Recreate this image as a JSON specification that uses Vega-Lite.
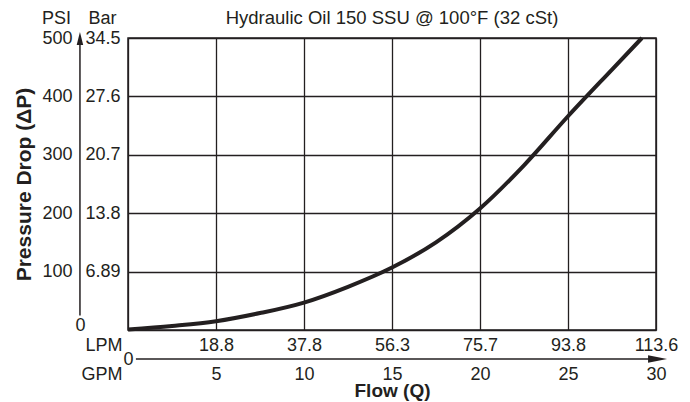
{
  "$schema": "https://vega.github.io/schema/vega-lite/v6.json",
  "width": 528,
  "height": 292,
  "autosize": {"type": "none"},
  "padding": {"left": 128, "top": 38, "right": 34, "bottom": 72},
  "background": "white",
  "title": {"text": "Hydraulic Oil 150 SSU @ 100°F (32 cSt)", "fontSize": 18.5, "fontWeight": "normal", "font": "Liberation Sans", "color": "#231f20", "anchor": "middle", "offset": 0, "dy": 18},
  "config": {
    "view": {"stroke": "#231f20", "strokeWidth": 1.5},
    "font": "Liberation Sans",
    "axis": {"labelFont": "Liberation Sans", "titleFont": "Liberation Sans", "labelColor": "#231f20", "titleColor": "#231f20", "labelFontSize": 18, "grid": false, "ticks": false, "tickSize": 0, "domain": false, "labelOverlap": false, "labelFlush": false, "labelBound": false}
  },
  "datasets": {
    "curve": [
      {"gpm": 0, "psi": 1},
      {"gpm": 2.5, "psi": 7},
      {"gpm": 5, "psi": 15},
      {"gpm": 7.5, "psi": 29},
      {"gpm": 10, "psi": 47},
      {"gpm": 12.5, "psi": 74},
      {"gpm": 15, "psi": 107},
      {"gpm": 17.5, "psi": 150},
      {"gpm": 20, "psi": 208},
      {"gpm": 22.5, "psi": 282},
      {"gpm": 25, "psi": 366},
      {"gpm": 27.5, "psi": 446},
      {"gpm": 29.2, "psi": 500}
    ],
    "one": [{"k": 1}]
  },
  "layer": [
    {
      "data": {"name": "curve"},
      "mark": {"type": "line", "interpolate": "monotone", "color": "#231f20", "strokeWidth": 4},
      "encoding": {
        "x": {"field": "gpm", "type": "quantitative", "scale": {"domain": [0, 30], "nice": false, "zero": false},
          "axis": {"orient": "bottom", "values": [0, 5, 10, 15, 20, 25, 30], "grid": true, "gridColor": "#231f20", "gridWidth": 1.3, "gridOpacity": 1, "labelPadding": 6,
            "labelExpr": "datum.value == 0 ? 'LPM' : datum.value == 5 ? '18.8' : datum.value == 10 ? '37.8' : datum.value == 15 ? '56.3' : datum.value == 20 ? '75.7' : datum.value == 25 ? '93.8' : '113.6'",
            "labelAlign": {"condition": {"test": "datum.value == 0", "value": "right"}, "value": "center"},
            "labelOffset": {"condition": {"test": "datum.value == 0", "value": -6}, "value": 0},
            "title": null}},
        "y": {"field": "psi", "type": "quantitative", "scale": {"domain": [0, 500], "nice": false},
          "axis": {"orient": "left", "offset": 48, "values": [0, 100, 200, 300, 400, 500], "labelPadding": {"condition": {"test": "datum.value == 0", "value": 0}, "value": 8},
            "labelAlign": {"condition": {"test": "datum.value == 0", "value": "center"}, "value": "right"},
            "labelOffset": {"condition": {"test": "datum.value == 0", "value": -5}, "value": 0},
            "title": "Pressure Drop (ΔP)", "titleFontSize": 21, "titleFontWeight": "bold", "titlePadding": 7}}
      }
    },
    {
      "mark": {"type": "rect", "color": "white"},
      "encoding": {
        "x": {"datum": 1.5, "type": "quantitative", "scale": {"domain": [0, 30], "nice": false, "zero": false},
          "axis": {"orient": "bottom", "offset": 29, "values": [0, 5, 10, 15, 20, 25, 30],
            "labelPadding": {"condition": {"test": "datum.value == 0", "value": 0}, "value": 6},
            "labelBaseline": {"condition": {"test": "datum.value == 0", "value": "middle"}, "value": "top"},
            "labelAlign": {"condition": {"test": "datum.value == 0", "value": "right"}, "value": "center"},
            "labelOffset": {"condition": {"test": "datum.value == 0", "value": 5}, "value": 0},
            "title": "Flow (Q)", "titleFontSize": 19, "titleFontWeight": "bold", "titlePadding": -2}},
        "x2": {"datum": 8.5},
        "y": {"datum": 325, "type": "quantitative", "scale": {"domain": [0, 500], "nice": false},
          "axis": {"orient": "left", "offset": 0, "values": [0, 100, 200, 300, 400, 500], "grid": true, "gridColor": "#231f20", "gridWidth": 1.3, "gridOpacity": 1,
            "labelAlign": "left", "labelPadding": 43,
            "labelExpr": "datum.value == 100 ? '6.89' : datum.value == 200 ? '13.8' : datum.value == 300 ? '20.7' : datum.value == 400 ? '27.6' : datum.value == 500 ? '34.5' : ''",
            "title": "Bar", "titleAngle": 0, "titleX": -26, "titleY": -20, "titleAlign": "center", "titleBaseline": "middle", "titleFontSize": 18, "titleFontWeight": "normal"}},
        "y2": {"datum": 372}
      }
    },
    {
      "mark": {"type": "text", "text": "100% Energized", "fontSize": 16, "fontWeight": "bold", "color": "#231f20", "font": "Liberation Sans"},
      "encoding": {
        "x": {"datum": 5, "type": "quantitative", "scale": {"domain": [0, 30], "nice": false, "zero": false},
          "axis": {"orient": "bottom", "offset": 29, "values": [0], "labelExpr": "'GPM'", "labelAlign": "right", "labelOffset": -6, "labelPadding": 6, "title": null}},
        "y": {"datum": 348, "type": "quantitative", "scale": {"domain": [0, 500], "nice": false},
          "axis": {"orient": "left", "offset": 0, "labels": false, "title": "PSI", "titleAngle": 0, "titleX": -72, "titleY": -20, "titleAlign": "center", "titleBaseline": "middle", "titleFontSize": 18, "titleFontWeight": "normal"}}
      }
    },
    {
      "data": {"name": "one"},
      "mark": {"type": "rule", "color": "#231f20", "strokeWidth": 1.5, "clip": false},
      "encoding": {
        "x": {"datum": -2.73, "type": "quantitative", "scale": {"domain": [0, 30], "nice": false, "zero": false}, "axis": null},
        "y": {"datum": 25, "type": "quantitative", "scale": {"domain": [0, 500], "nice": false}, "axis": null},
        "y2": {"datum": 495}
      }
    },
    {
      "data": {"name": "one"},
      "mark": {"type": "rule", "color": "#231f20", "strokeWidth": 1.5, "clip": false},
      "encoding": {
        "x": {"datum": 0.45, "type": "quantitative", "scale": {"domain": [0, 30], "nice": false, "zero": false}, "axis": null},
        "x2": {"datum": 29.9},
        "y": {"datum": -49.7, "type": "quantitative", "scale": {"domain": [0, 500], "nice": false}, "axis": null}
      }
    },
    {
      "data": {"name": "one"},
      "mark": {"type": "point", "shape": "M0,-1L0.5,1L-0.5,1Z", "size": 169, "filled": true, "color": "#231f20", "opacity": 1, "strokeWidth": 0, "clip": false},
      "encoding": {
        "x": {"datum": -2.73, "type": "quantitative", "scale": {"domain": [0, 30], "nice": false, "zero": false}, "axis": null},
        "y": {"datum": 499, "type": "quantitative", "scale": {"domain": [0, 500], "nice": false}, "axis": null}
      }
    },
    {
      "data": {"name": "one"},
      "mark": {"type": "point", "shape": "M1,0L-1,-0.4L-1,0.4Z", "size": 361, "filled": true, "color": "#231f20", "opacity": 1, "strokeWidth": 0, "clip": false},
      "encoding": {
        "x": {"datum": 30.09, "type": "quantitative", "scale": {"domain": [0, 30], "nice": false, "zero": false}, "axis": null},
        "y": {"datum": -49.7, "type": "quantitative", "scale": {"domain": [0, 500], "nice": false}, "axis": null}
      }
    }
  ],
  "resolve": {"axis": {"x": "independent", "y": "independent"}}
}
